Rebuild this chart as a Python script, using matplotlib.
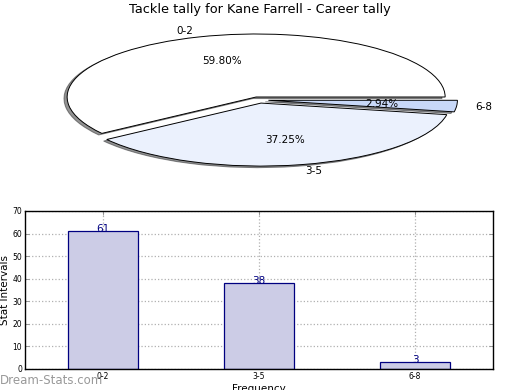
import matplotlib
matplotlib.use("Agg")
import matplotlib.pyplot as plt

title = "Tackle tally for Kane Farrell - Career tally"
categories = ["0-2", "3-5", "6-8"]
counts = [61, 38, 3]
pie_colors = ["#ffffff", "#ebf1fd", "#c8d8f8"]
explode = [0.05, 0.05, 0.05]

fig = plt.figure(figsize=(5.2, 3.9), dpi=100)
fig.patch.set_facecolor("white")

# Pie chart (squashed into an ellipse)
axp = fig.add_axes([70 / 520, 1 - 163 / 390, 378 / 520, 126 / 390])
wedges, texts, autotexts = axp.pie(
    counts, labels=categories, colors=pie_colors, explode=explode,
    autopct="%1.2f%%", shadow=dict(ox=-0.012, oy=-0.018, shade=0.85), startangle=0,
    wedgeprops=dict(edgecolor="black", linewidth=0.7),
    textprops=dict(fontsize=7.5), frame=False)
axp.set_aspect("auto")
axp.set_xlim(-1, 1)
axp.set_ylim(-1, 1)
axp.axis("off")
for p in axp.patches:
    p.set_clip_on(False)
for t in texts + autotexts:
    t.set_clip_on(False)
fig.text(0.5, 1 - 10 / 390, title, ha="center", va="center", fontsize=9.3)

# Bar chart
axb = fig.add_axes([25 / 520, 1 - 369 / 390, 468 / 520, 158 / 390])
x = list(range(len(categories)))
axb.bar(x, counts, width=0.45, color="#ccccE6", edgecolor="#000080", linewidth=0.9, zorder=2)
for xi, v in zip(x, counts):
    axb.text(xi, v - 1.2, str(v), ha="center", va="bottom", color="#000080", fontsize=7.5, zorder=3)
axb.set_xlim(-0.5, 2.5)
axb.set_ylim(0, 70)
axb.set_xticks(x)
axb.set_xticklabels(categories)
axb.set_yticks(range(0, 71, 10))
axb.tick_params(axis="both", labelsize=5.5, direction="in", top=True, right=True, length=3, width=0.6, color="#888888", pad=2)
axb.grid(True, linestyle=":", color="#b0b0b0", linewidth=0.9, zorder=0)
axb.set_axisbelow(True)
for s in axb.spines.values():
    s.set_linewidth(1.0)
axb.set_ylabel("Stat Intervals", fontsize=7.5, labelpad=2)
axb.set_xlabel("Frequency", fontsize=7.5, labelpad=2)

fig.text(0.0, 1 - 380 / 390, "Dream-Stats.com", ha="left", va="center", fontsize=8.5, color="#999999")

fig.savefig("out.png", dpi=100, facecolor="white")
